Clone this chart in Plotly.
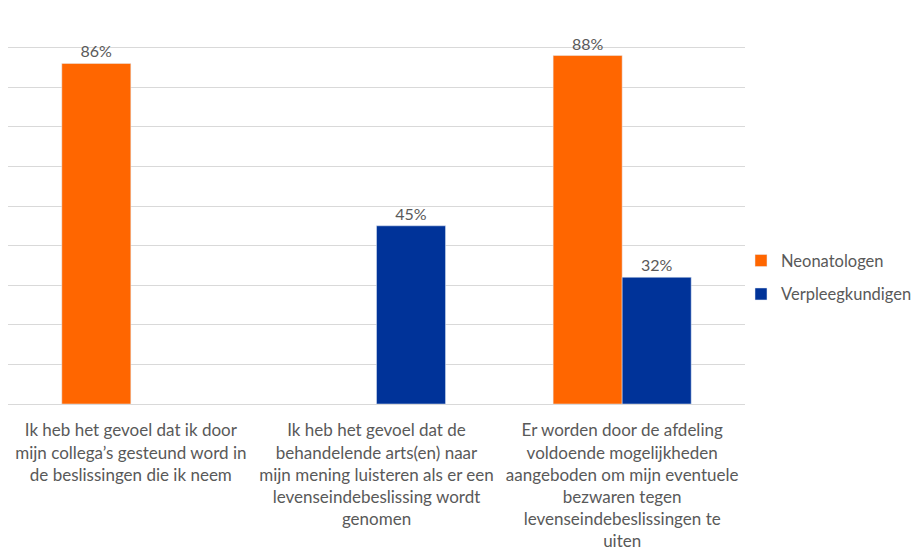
import plotly.graph_objects as go

categories = [
    "Ik heb het gevoel dat ik door<br>mijn collega’s gesteund word in<br>de beslissingen die ik neem",
    "Ik heb het gevoel dat de<br>behandelende arts(en) naar<br>mijn mening luisteren als er een<br>levenseindebeslissing wordt<br>genomen",
    "Er worden door de afdeling<br>voldoende mogelijkheden<br>aangeboden om mijn eventuele<br>bezwaren tegen<br>levenseindebeslissingen te<br>uiten",
]
neonatologen = [86, None, 88]
verpleegkundigen = [None, 45, 32]

FONT = "Lato"
GRAY = "#595959"

fig = go.Figure()
fig.add_trace(go.Bar(
    name="Neonatologen", x=categories, y=neonatologen,
    marker_color="#FF6600", legendgroup="a",
    texttemplate="%{y}%", textposition="outside",
    textfont=dict(family=FONT, size=16, color=GRAY), cliponaxis=False,
))
fig.add_trace(go.Bar(
    name="Verpleegkundigen", x=categories, y=verpleegkundigen,
    marker_color="#003399", legendgroup="b",
    texttemplate="%{y}%", textposition="outside",
    textfont=dict(family=FONT, size=16, color=GRAY), cliponaxis=False,
))

fig.update_layout(
    width=922, height=552,
    margin=dict(l=8, r=177, t=8, b=148, autoexpand=False),
    paper_bgcolor="white", plot_bgcolor="white",
    barmode="group", bargap=0.438, bargroupgap=0,
    font=dict(family=FONT, color=GRAY),
    legend=dict(x=(741 - 8) / 737, y=0.32, yanchor="middle", xanchor="left",
                font=dict(family=FONT, size=16.5, color=GRAY),
                bgcolor="rgba(0,0,0,0)",
                tracegroupgap=9, itemwidth=30),
    showlegend=True,
)
fig.update_xaxes(
    showline=True, linecolor="#d9d9d9", linewidth=1,
    tickfont=dict(family=FONT, size=17, color=GRAY),
    ticks="", showgrid=False, ticklabelstandoff=11,
)
fig.update_yaxes(
    range=[0, 100], dtick=10, showticklabels=False,
    showgrid=True, gridcolor="#d9d9d9", gridwidth=1,
    zeroline=False,
)

fig.write_html("out.html")
